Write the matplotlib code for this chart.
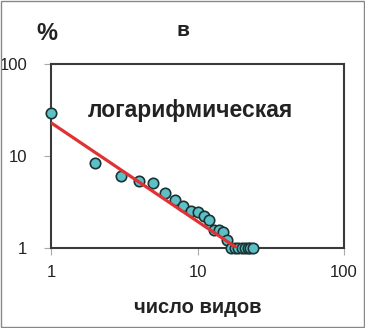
import matplotlib
matplotlib.use('Agg')
import matplotlib.pyplot as plt
from matplotlib.ticker import FixedLocator, NullLocator
from matplotlib.patches import Rectangle

plt.rcParams['font.family'] = ['Liberation Sans', 'DejaVu Sans']

# ранг вида и доля (%)
rank = [1, 2, 3, 4, 5, 6, 7, 8, 9, 10, 11, 12, 13, 14, 15, 16,
        17, 18, 19, 20, 21, 22, 23, 24]
share = [29.2, 8.3, 6.0, 5.4, 5.05, 4.0, 3.3, 2.85, 2.55, 2.45, 2.25, 2.0,
         1.55, 1.55, 1.5, 1.22, 1, 1, 1, 1, 1, 1, 1, 1]

# степенной тренд (концы линии)
trend_x = [1, 18.6]
trend_y = [23.0, 1.0]

ticks = [1, 10, 100]
tick_labels = ['1', '10', '100']

fig = plt.figure(figsize=(3.65, 3.28), dpi=100)
ax = fig.add_axes([51 / 365, 1 - 248 / 328, 293 / 365, 184 / 328])

ax.set_xscale('log')
ax.set_yscale('log')
ax.set_xlim(1, 100)
ax.set_ylim(1, 100)

ax.plot(rank, share, 'o', ms=7.5, mfc='#5cc0c6', mec='#1c3333', mew=1.2,
        clip_on=False, zorder=3)
ax.plot(trend_x, trend_y, color='#e03232', lw=2.3, zorder=4,
        solid_capstyle='butt')

for a in (ax.xaxis, ax.yaxis):
    a.set_major_locator(FixedLocator(ticks))
    a.set_minor_locator(NullLocator())
ax.set_xticklabels(tick_labels)
ax.set_yticklabels(tick_labels)
ax.tick_params(direction='out', length=5, width=0.8, color='#aaaaaa',
               labelsize=12, labelcolor='#222222', pad=7)
ax.tick_params(axis='y', pad=12)

for s in ax.spines.values():
    s.set_color('#3a3a3a')
    s.set_linewidth(1.5)

ax.text(0.476, 0.712, 'логарифмическая', transform=ax.transAxes,
        ha='center', va='baseline', fontsize=16.5, fontweight='bold',
        color='#222222')

fig.text(47 / 365, 1 - 33 / 328, '%', ha='center', va='center',
         fontsize=17, fontweight='bold', color='#222222')
fig.text(183 / 365, 1 - 31 / 328, 'в', ha='center', va='center',
         fontsize=15, fontweight='bold', color='#222222')
fig.text(198 / 365, 1 - 313 / 328, 'число видов', ha='center',
         va='baseline', fontsize=14.5, fontweight='bold', color='#222222')

fig.patches.append(Rectangle((0.002, 0.002), 0.994, 0.994,
                             transform=fig.transFigure, fill=False,
                             edgecolor='#888888', lw=1))

fig.savefig('out.png', dpi=100)
